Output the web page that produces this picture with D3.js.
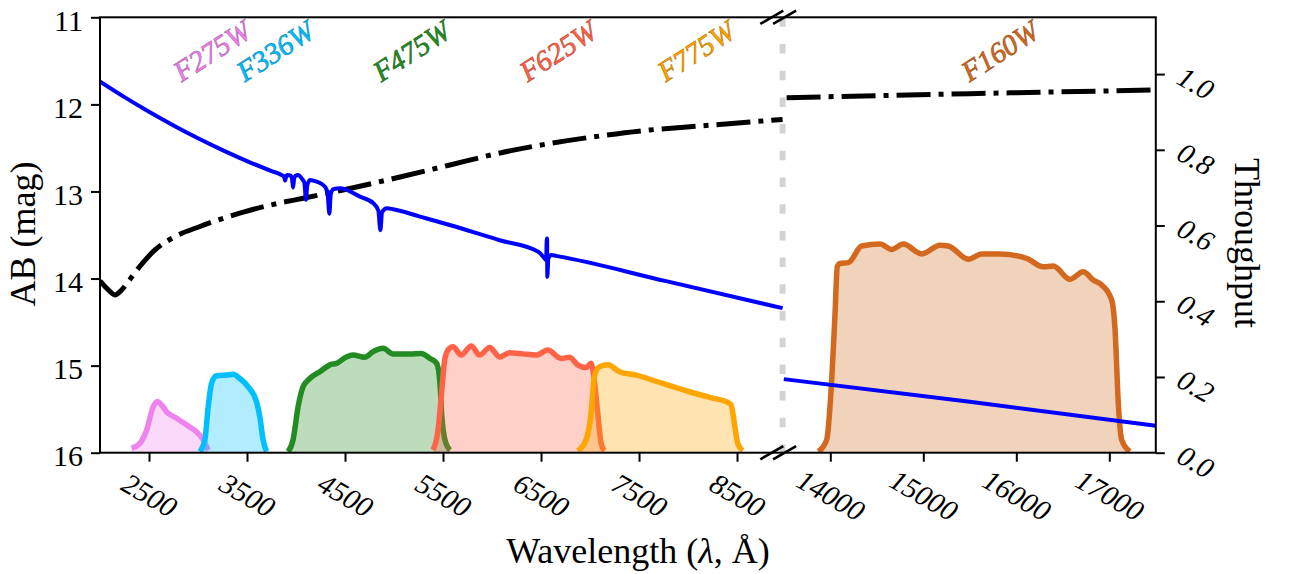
<!DOCTYPE html>
<html><head><meta charset="utf-8">
<script src="https://cdn.jsdelivr.net/npm/d3@7"></script>
<style>
body{margin:0;background:#fff}
svg{display:block}
text{font-family:"Liberation Serif","Times New Roman",serif;fill:#000}
</style>
</head><body>
<svg id="chart" width="1301" height="574"></svg>
<script>
// ---------------- DATA ----------------
const waveTicksLeft = [2500, 3500, 4500, 5500, 6500, 7500, 8500];
const waveTicksRight = [14000, 15000, 16000, 17000];
const magTicks = [11, 12, 13, 14, 15, 16];
const throughputTicks = [0.0, 0.2, 0.4, 0.6, 0.8, 1.0];

const filterNames = ["F275W", "F336W", "F475W", "F625W", "F775W", "F160W"];
const filterPivots = [2710, 3355, 4747, 6242, 7651, 15369];

const f275w = [[2323,0.012],[2408,0.025],[2476,0.06],[2543,0.121],[2584,0.135],[2629,0.126],[2680,0.108],[2782,0.091],[2884,0.073],[2986,0.055],[3053,0.034],[3104,0.007]];
const f336w = [[3019,0.003],[3070,0.034],[3104,0.121],[3138,0.183],[3189,0.203],[3291,0.205],[3358,0.207],[3427,0.196],[3512,0.174],[3596,0.135],[3631,0.095],[3664,0.034],[3699,0.003]];
const f475w = [[3919,0.003],[3970,0.034],[4021,0.121],[4072,0.174],[4141,0.196],[4243,0.214],[4345,0.232],[4413,0.236],[4514,0.253],[4581,0.258],[4701,0.252],[4786,0.267],[4888,0.276],[4990,0.261],[5160,0.261],[5278,0.262],[5367,0.249],[5436,0.236],[5469,0.183],[5486,0.104],[5520,0.034],[5571,0.007]];
const f625w = [[5398,0.007],[5449,0.06],[5482,0.148],[5517,0.245],[5550,0.271],[5601,0.28],[5686,0.258],[5788,0.282],[5874,0.258],[5976,0.278],[6077,0.253],[6179,0.264],[6315,0.261],[6451,0.258],[6569,0.271],[6706,0.249],[6790,0.252],[6874,0.232],[6960,0.225],[7011,0.236],[7044,0.192],[7079,0.104],[7113,0.025],[7147,0.005]];
const f775w = [[6876,0.005],[6960,0.034],[7011,0.104],[7044,0.201],[7097,0.227],[7182,0.232],[7301,0.214],[7471,0.205],[7742,0.183],[8014,0.161],[8252,0.144],[8388,0.135],[8439,0.126],[8473,0.078],[8507,0.025],[8558,0.005]];
const f160w = [[13871,0.003],[13961,0.034],[14015,0.192],[14051,0.368],[14075,0.491],[14104,0.5],[14194,0.502],[14338,0.546],[14535,0.551],[14660,0.537],[14785,0.551],[14983,0.525],[15180,0.548],[15269,0.546],[15484,0.511],[15628,0.525],[15825,0.525],[16112,0.513],[16290,0.491],[16398,0.493],[16577,0.458],[16720,0.478],[16828,0.456],[16918,0.443],[17026,0.403],[17062,0.324],[17097,0.13],[17133,0.034],[17222,0.003]];

// stellar spectrum (AB mag), optical and IR segments
const spectrumLeft = [[2000,11.739],[2250,11.917],[2500,12.085],[2750,12.242],[3000,12.389],[3250,12.525],[3500,12.651],[3750,12.766],[3852,12.811],[3878,12.83],[3889,12.875],[3898,12.835],[3912,12.812],[3945,12.818],[3960,12.86],[3970,12.955],[3980,12.86],[3995,12.82],[4022,12.81],[4057,12.85],[4085,12.9],[4102,13.095],[4115,12.93],[4143,12.867],[4211,12.887],[4296,12.945],[4322,13.02],[4340,13.255],[4355,13.03],[4381,12.975],[4449,12.963],[4653,13.06],[4789,13.135],[4840,13.22],[4861,13.445],[4878,13.24],[4926,13.193],[4993,13.204],[5265,13.289],[5568,13.385],[6077,13.56],[6468,13.69],[6530,13.76],[6552,13.79],[6559,13.54],[6562,13.54],[6564,13.98],[6575,13.77],[6604,13.73],[6655,13.74],[7776,14.03],[8965,14.34]];
const spectrumRight = [[13500,15.155],[15500,15.415],[17500,15.69]];

// dash-dot comparison curve (AB mag)
const modelLeft = [[2000,14.028],[2085,14.131],[2153,14.188],[2221,14.131],[2288,14.036],[2391,13.882],[2561,13.672],[2765,13.519],[3020,13.402],[3480,13.232],[3820,13.135],[4074,13.078],[4480,12.983],[5061,12.834],[5571,12.696],[6082,12.558],[6592,12.449],[7102,12.363],[7612,12.294],[8122,12.248],[8633,12.202],[8965,12.173]];
const modelRight = [[13530,11.923],[15500,11.877],[17500,11.835]];

// ---------------- STYLE ----------------
const filterColors = ["violet", "deepskyblue", "forestgreen", "tomato", "orange", "chocolate"];
const filterCurves = [f275w, f336w, f475w, f625w, f775w, f160w];

const svg = d3.select("#chart");
const L = 100, R = 1155.8, T = 17.3, B = 452.7;
const breakL = 8965, breakR = 13500;

const xL = d3.scaleLinear().domain([2000, breakL]).range([L, 782.6]);
const xR = d3.scaleLinear().domain([breakR, 17500]).range([783.8, R]);
const x = w => (w <= breakL ? xL(w) : xR(w));
const yMag = d3.scaleLinear().domain([11, 16]).range([T, B]);
const yThr = d3.scaleLinear().domain([0, 1.15]).range([B, T]);

svg.append("defs").append("clipPath").attr("id", "plot")
  .append("rect").attr("x", L).attr("y", T).attr("width", R - L).attr("height", B - T);

const plot = svg.append("g").attr("clip-path", "url(#plot)");

// filters
filterCurves.forEach((c, i) => {
  const area = d3.area().x(d => x(d[0])).y0(yThr(0)).y1(d => yThr(d[1])).curve(d3.curveMonotoneX);
  const line = d3.line().x(d => x(d[0])).y(d => yThr(d[1])).curve(d3.curveMonotoneX);
  plot.append("path").datum(c).attr("d", area)
    .attr("fill", filterColors[i]).attr("fill-opacity", 0.3);
  plot.append("path").datum(c).attr("d", line)
    .attr("fill", "none").attr("stroke", filterColors[i]).attr("stroke-width", 5.5)
    .attr("stroke-linejoin", "round");
});

// break line (grey dashed)
plot.append("line").attr("x1", xL(breakL)).attr("x2", xL(breakL))
  .attr("y1", T).attr("y2", B).attr("stroke", "#d3d3d3").attr("stroke-width", 6)
  .attr("stroke-dasharray", "9.5 17.2");

// model curve (dash-dot)
const magLineSmooth = d3.line().x(d => x(d[0])).y(d => yMag(d[1])).curve(d3.curveMonotoneX);
[modelLeft, modelRight].forEach(seg => {
  plot.append("path").datum(seg).attr("d", magLineSmooth)
    .attr("fill", "none").attr("stroke", "#000").attr("stroke-width", 5)
    .attr("stroke-dasharray", "34 8 5 8");
});

// spectrum
[spectrumLeft, spectrumRight].forEach(seg => {
  plot.append("path").datum(seg).attr("d", magLineSmooth)
    .attr("fill", "none").attr("stroke", "blue").attr("stroke-width", 4)
    .attr("stroke-linejoin", "round");
});

// filter labels
filterNames.forEach((n, i) => {
  const c = d3.color(filterColors[i]);
  svg.append("text")
    .attr("transform", `translate(${x(filterPivots[i]) + 12},${yMag(11.75)}) rotate(-33)`)
    .attr("font-size", 29).attr("font-style", "italic")
    .style("fill", filterColors[i])
    .attr("stroke", c.darker(0.9)).attr("stroke-width", 0.6)
    .text(n);
});

// axes
const FF = '"Liberation Serif",serif';
const axL = svg.append("g").attr("transform", `translate(${L},0)`)
  .call(d3.axisLeft(yMag).tickValues(magTicks).tickSize(9).tickSizeOuter(0).tickPadding(8).tickFormat(d3.format("d")));
axL.selectAll("text").attr("font-size", 30).attr("dy", "0.43em").style("font-family", FF);

function styleBottom(g) {
  g.selectAll("text").attr("y", null).attr("dy", null)
    .attr("transform", "translate(0,42.5) rotate(30)")
    .attr("text-anchor", "middle").attr("dominant-baseline", "central")
    .attr("font-size", 29).attr("font-style", "italic")
    .style("font-family", FF);
}
const axB1 = svg.append("g").attr("transform", `translate(0,${B})`)
  .call(d3.axisBottom(xL).tickValues(waveTicksLeft).tickSize(9).tickSizeOuter(0).tickFormat(d3.format("d")));
styleBottom(axB1);
const axB2 = svg.append("g").attr("transform", `translate(0,${B})`)
  .call(d3.axisBottom(xR).tickValues(waveTicksRight).tickSize(9).tickSizeOuter(0).tickFormat(d3.format("d")));
styleBottom(axB2);

const axR = svg.append("g").attr("transform", `translate(${R},0)`)
  .call(d3.axisRight(yThr).tickValues(throughputTicks).tickSize(9).tickSizeOuter(0).tickFormat(d3.format(".1f")));
axR.selectAll("text").attr("x", null).attr("dy", null)
  .attr("transform", "translate(40,8.5) rotate(30)")
  .attr("text-anchor", "middle").attr("dominant-baseline", "central")
  .attr("font-size", 29).attr("font-style", "italic")
  .style("font-family", FF);

[axL, axB1, axB2, axR].forEach(a => {
  a.select(".domain").remove();
  a.selectAll(".tick line").attr("stroke", "#000").attr("stroke-width", 2);
});

// spines
svg.append("rect").attr("x", L).attr("y", T).attr("width", R - L).attr("height", B - T)
  .attr("fill", "none").attr("stroke", "#000").attr("stroke-width", 2);

// break marks
const bx = (xL(breakL) + xR(breakR)) / 2 - 5;
[T, B].forEach(yy => {
  [-6.4, 6.4].forEach(o => {
    svg.append("line")
      .attr("x1", bx + o - 11.5).attr("y1", yy + 6.6)
      .attr("x2", bx + o + 11.5).attr("y2", yy - 6.6)
      .attr("stroke", "#000").attr("stroke-width", 2.6);
  });
});

// axis titles
svg.append("text").attr("x", 638).attr("y", 563).attr("text-anchor", "middle")
  .attr("font-size", 36)
  .html('Wavelength (<tspan font-style="italic">λ</tspan>, Å)');
svg.append("text").attr("transform", "translate(35,234) rotate(-90)")
  .attr("text-anchor", "middle").attr("font-size", 36).text("AB (mag)");
svg.append("text").attr("transform", "translate(1235,243) rotate(90)")
  .attr("text-anchor", "middle").attr("font-size", 36).text("Throughput");
</script>
</body></html>
